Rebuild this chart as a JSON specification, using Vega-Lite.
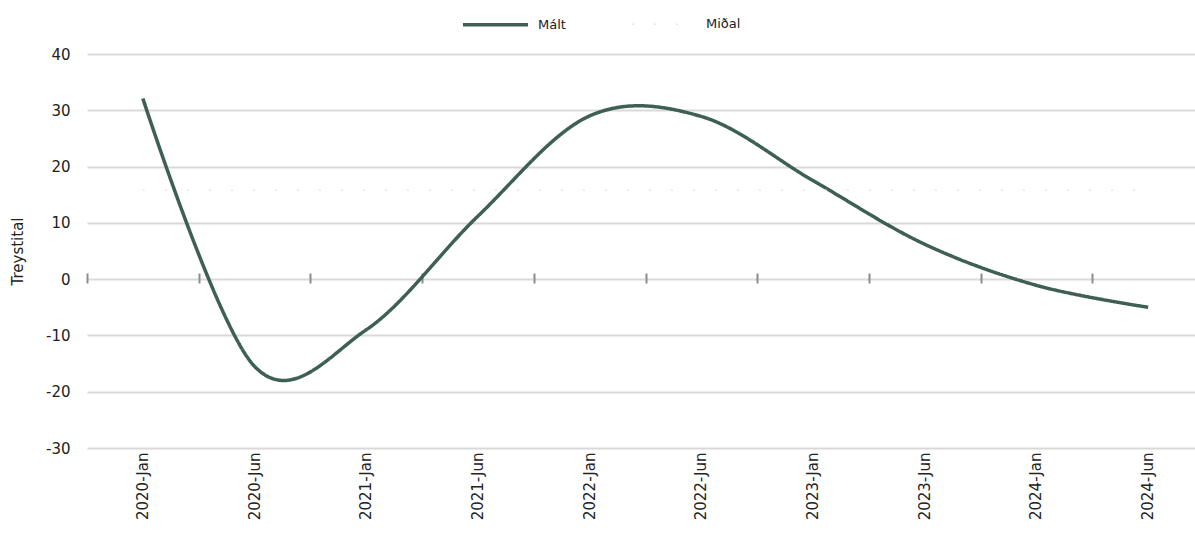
{
  "$schema": "https://vega.github.io/schema/vega-lite/v6.json",
  "autosize": "none",
  "padding": {"left": 87, "top": 54, "right": 0, "bottom": 96},
  "width": 1117,
  "height": 394,
  "background": "white",
  "config": {
    "font": "DejaVu Sans",
    "view": {"stroke": null},
    "axis": {"labelFont": "DejaVu Sans", "titleFont": "DejaVu Sans", "labelColor": "#222222", "titleColor": "#222222"}
  },
  "data": {
    "values": [
      {"month": "2020-Jan", "series": "Mált", "value": 32.1},
      {"month": "2020-Jun", "series": "Mált", "value": -15.5},
      {"month": "2021-Jan", "series": "Mált", "value": -9.0},
      {"month": "2021-Jun", "series": "Mált", "value": 11.2},
      {"month": "2022-Jan", "series": "Mált", "value": 29.0},
      {"month": "2022-Jun", "series": "Mált", "value": 28.9},
      {"month": "2023-Jan", "series": "Mált", "value": 17.5},
      {"month": "2023-Jun", "series": "Mált", "value": 6.2},
      {"month": "2024-Jan", "series": "Mált", "value": -1.1},
      {"month": "2024-Jun", "series": "Mált", "value": -5.0},
      {"month": "2020-Jan", "series": "Miðal", "value": 15.8},
      {"month": "2020-Jun", "series": "Miðal", "value": 15.8},
      {"month": "2021-Jan", "series": "Miðal", "value": 15.8},
      {"month": "2021-Jun", "series": "Miðal", "value": 15.8},
      {"month": "2022-Jan", "series": "Miðal", "value": 15.8},
      {"month": "2022-Jun", "series": "Miðal", "value": 15.8},
      {"month": "2023-Jan", "series": "Miðal", "value": 15.8},
      {"month": "2023-Jun", "series": "Miðal", "value": 15.8},
      {"month": "2024-Jan", "series": "Miðal", "value": 15.8},
      {"month": "2024-Jun", "series": "Miðal", "value": 15.8}
    ]
  },
  "resolve": {"axis": {"x": "independent"}},
  "layer": [
    {
      "mark": {"type": "rule", "color": "#8c8c8c", "strokeWidth": 2},
      "encoding": {
        "y": {"datum": 0, "type": "quantitative", "scale": {"domain": [-30, 40]}},
        "x": {"field": "month", "type": "ordinal", "sort": null, "scale": {"type": "band", "paddingInner": 0, "paddingOuter": 0},
          "axis": {"orient": "top", "offset": -229, "domain": false, "labels": false, "title": null, "ticks": true, "tickSize": 10, "tickColor": "#8c8c8c", "tickWidth": 2, "tickBand": "extent", "grid": false}}
      }
    },
    {
      "mark": {"type": "line", "interpolate": "cardinal", "tension": 0},
      "encoding": {
        "x": {"field": "month", "type": "ordinal", "sort": null, "bandPosition": 0.5,
          "axis": {"orient": "bottom", "title": null, "domain": false, "ticks": false, "labelAngle": -90, "labelAlign": "right", "labelBaseline": "middle", "labelPadding": 4, "labelFontSize": 15, "grid": false}},
        "y": {"field": "value", "type": "quantitative", "scale": {"domain": [-30, 40], "nice": false},
          "axis": {"title": "Treystital", "titleFontSize": 15, "titleFontWeight": "normal", "titlePadding": 20, "values": [-30, -20, -10, 0, 10, 20, 30, 40], "labelExpr": "'' + datum.value", "labelFontSize": 15, "labelPadding": 17, "domain": false, "ticks": false, "grid": true, "gridColor": "#d9d9d9", "gridWidth": 2}},
        "color": {"field": "series", "type": "nominal", "scale": {"domain": ["Mált", "Miðal"], "range": ["#3e5f56", "#e6e6e6"]},
          "legend": {"title": null, "orient": "none", "legendX": 374, "legendY": -64, "direction": "horizontal", "symbolType": "stroke", "symbolSize": 4225, "symbolStrokeWidth": 3.5, "labelFontSize": 13, "labelFont": "DejaVu Sans", "labelColor": "#222222", "labelOffset": 8, "columnPadding": 63}},
        "strokeWidth": {"field": "series", "type": "nominal", "scale": {"domain": ["Mált", "Miðal"], "range": [3.5, 1.5]}, "legend": null},
        "strokeDash": {"field": "series", "type": "nominal", "scale": {"domain": ["Mált", "Miðal"], "range": [[1, 0], [2, 20]]}, "legend": null}
      }
    }
  ]
}
